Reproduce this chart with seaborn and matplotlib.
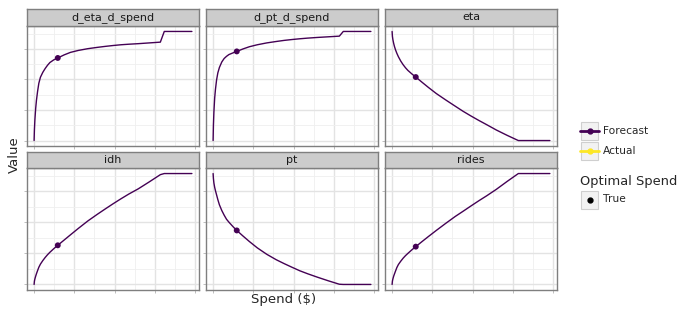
import numpy as np
import pandas as pd
import matplotlib
matplotlib.use("Agg")
import matplotlib.pyplot as plt
import seaborn as sns
from matplotlib.patches import Rectangle
from matplotlib.lines import Line2D
from matplotlib.ticker import MultipleLocator

# ---------------- data (normalised units) ----------------
spend = [0, 78, 196, 392, 588, 862, 1176, 1568, 2156, 2744, 3332, 3920, 4900,
         5880, 7448, 9016, 10976, 13328, 15680, 17640, 19600, 21560, 23520,
         25872, 28616, 31360, 32340, 35280, 39200]
d_eta_d_spend = [0.0, 0.10, 0.19, 0.295, 0.37, 0.45, 0.525, 0.58, 0.625, 0.66,
                 0.69, 0.715, 0.74, 0.757, 0.785, 0.808, 0.826, 0.842, 0.854,
                 0.863, 0.871, 0.878, 0.883, 0.888, 0.895, 0.902, 1.0, 1.0, 1.0]
d_pt_d_spend = [0.0, 0.14, 0.26, 0.39, 0.47, 0.555, 0.62, 0.67, 0.72, 0.752,
                0.772, 0.788, 0.803, 0.817, 0.84, 0.86, 0.878, 0.895, 0.908,
                0.918, 0.926, 0.933, 0.939, 0.945, 0.951, 0.957, 1.0, 1.0, 1.0]
eta = [1.0, 0.955, 0.925, 0.89, 0.862, 0.83, 0.80, 0.768, 0.728, 0.695, 0.667,
       0.643, 0.611, 0.582, 0.534, 0.487, 0.431, 0.372, 0.315, 0.268, 0.225,
       0.184, 0.145, 0.097, 0.047, 0.0, 0.0, 0.0, 0.0]
idh = [0.0, 0.03, 0.05, 0.075, 0.097, 0.125, 0.155, 0.183, 0.215, 0.243, 0.268,
       0.29, 0.323, 0.353, 0.40, 0.447, 0.505, 0.572, 0.632, 0.68, 0.727,
       0.772, 0.815, 0.862, 0.925, 0.99, 1.0, 1.0, 1.0]
pt = [1.0, 0.955, 0.915, 0.875, 0.845, 0.808, 0.765, 0.718, 0.667, 0.625,
      0.588, 0.562, 0.523, 0.487, 0.436, 0.387, 0.33, 0.272, 0.223, 0.188,
      0.155, 0.123, 0.096, 0.066, 0.033, 0.002, 0.0, 0.0, 0.0]
rides = [0.0, 0.03, 0.05, 0.075, 0.095, 0.122, 0.152, 0.18, 0.21, 0.237, 0.26,
         0.28, 0.312, 0.341, 0.387, 0.432, 0.487, 0.551, 0.613, 0.66, 0.708,
         0.755, 0.80, 0.857, 0.93, 1.0, 1.0, 1.0, 1.0]
metrics = ["d_eta_d_spend", "d_pt_d_spend", "eta", "idh", "pt", "rides"]
series = [d_eta_d_spend, d_pt_d_spend, eta, idh, pt, rides]
optimal_spend = 5880
types = ["Forecast", "Actual"]
type_colors = ["#440154", "#FDE725"]

rows = []
for m, vals in zip(metrics, series):
    for s, v in zip(spend, vals):
        rows.append({"metric": m, "spend": s, "value": v, "type": "Forecast"})
df = pd.DataFrame(rows)
opt = df[df["spend"] == optimal_spend]

# ---------------- figure ----------------
sns.set_style("white")
plt.rcParams["font.family"] = ["DejaVu Sans"]
W, H = 700, 316
fig = plt.figure(figsize=(W / 100, H / 100), dpi=100)
fig.patch.set_facecolor("white")

def fbox(x0, y0, x1, y1):
    return [x0 / W, 1 - y1 / H, (x1 - x0) / W, (y1 - y0) / H]

col_x = [(27, 199), (206, 378), (385, 557)]
row_y = [((9, 26), (26, 146)), ((152, 168), (168, 290))]
border = "#7f7f7f"
palette = dict(zip(types, type_colors))
xmax = max(spend)

for i, m in enumerate(metrics):
    r, c = divmod(i, 3)
    (sy0, sy1), (py0, py1) = row_y[r]
    x0, x1 = col_x[c]
    ax = fig.add_axes(fbox(x0, py0, x1, py1))
    sub = df[df["metric"] == m]
    sns.lineplot(data=sub, x="spend", y="value", hue="type", palette=palette,
                 legend=False, ax=ax, linewidth=1.0, estimator=None)
    so = opt[opt["metric"] == m]
    sns.scatterplot(data=so, x="spend", y="value", color="#440154", s=18,
                    edgecolor="none", legend=False, ax=ax, zorder=5)
    ax.set_xlim(-0.045 * xmax, 1.045 * xmax)
    ax.set_ylim(-0.05, 1.05)
    ax.xaxis.set_major_locator(MultipleLocator(10000))
    ax.xaxis.set_minor_locator(MultipleLocator(5000))
    ax.yaxis.set_major_locator(MultipleLocator(0.28))
    ax.yaxis.set_minor_locator(MultipleLocator(0.14))
    ax.grid(which="major", color="#e3e3e3", linewidth=1.0)
    ax.grid(which="minor", color="#efefef", linewidth=0.6)
    ax.set_axisbelow(True)
    ax.tick_params(which="both", length=2, color="#b3b3b3", labelleft=False,
                   labelbottom=False, left=True, bottom=True, width=0.6)
    ax.tick_params(which="minor", length=0)
    ax.set_xlabel("")
    ax.set_ylabel("")
    for sp in ax.spines.values():
        sp.set_color(border)
        sp.set_linewidth(1.0)
    sax = fig.add_axes(fbox(x0, sy0, x1, sy1))
    sax.set_facecolor("#cccccc")
    sax.set_xticks([])
    sax.set_yticks([])
    for sp in sax.spines.values():
        sp.set_color(border)
        sp.set_linewidth(1.0)
    sax.text(0.5, 0.5, m, ha="center", va="center", fontsize=8,
             color="#1a1a1a", transform=sax.transAxes)

fig.text(14 / W, 1 - 155 / H, "Value", rotation=90, ha="center", va="center",
         fontsize=9.5)
fig.text(284 / W, 1 - 300 / H, "Spend ($)", ha="center", va="center",
         fontsize=9.5)

# ---------------- legend ----------------
def key_box(y_top):
    fig.add_artist(Rectangle((580.5 / W, 1 - (y_top + 18) / H), 17.5 / W,
                             18 / H, transform=fig.transFigure,
                             facecolor="#f2f2f2", edgecolor="#cfcfcf",
                             linewidth=0.8))

for j, (t, col) in enumerate(zip(types, type_colors)):
    yt = 121.7 + j * 20
    key_box(yt)
    yc = 1 - (yt + 9) / H
    fig.add_artist(Line2D([580 / W, 599 / W], [yc, yc], color=col,
                          linewidth=2.0, transform=fig.transFigure))
    fig.add_artist(Line2D([589.5 / W], [yc], color=col, marker="o",
                          markersize=3.5, linestyle="none",
                          transform=fig.transFigure))
    fig.text(603 / W, yc, t, ha="left", va="center", fontsize=7.7)

fig.text(580 / W, 1 - 182 / H, "Optimal Spend", ha="left", va="center",
         fontsize=9.4)
key_box(190.5)
yc = 1 - 199.5 / H
fig.add_artist(Line2D([589.5 / W], [yc], color="black", marker="o",
                      markersize=3.5, linestyle="none",
                      transform=fig.transFigure))
fig.text(603 / W, yc, "True", ha="left", va="center", fontsize=7.7)

fig.savefig("out.png", dpi=100, facecolor="white")
